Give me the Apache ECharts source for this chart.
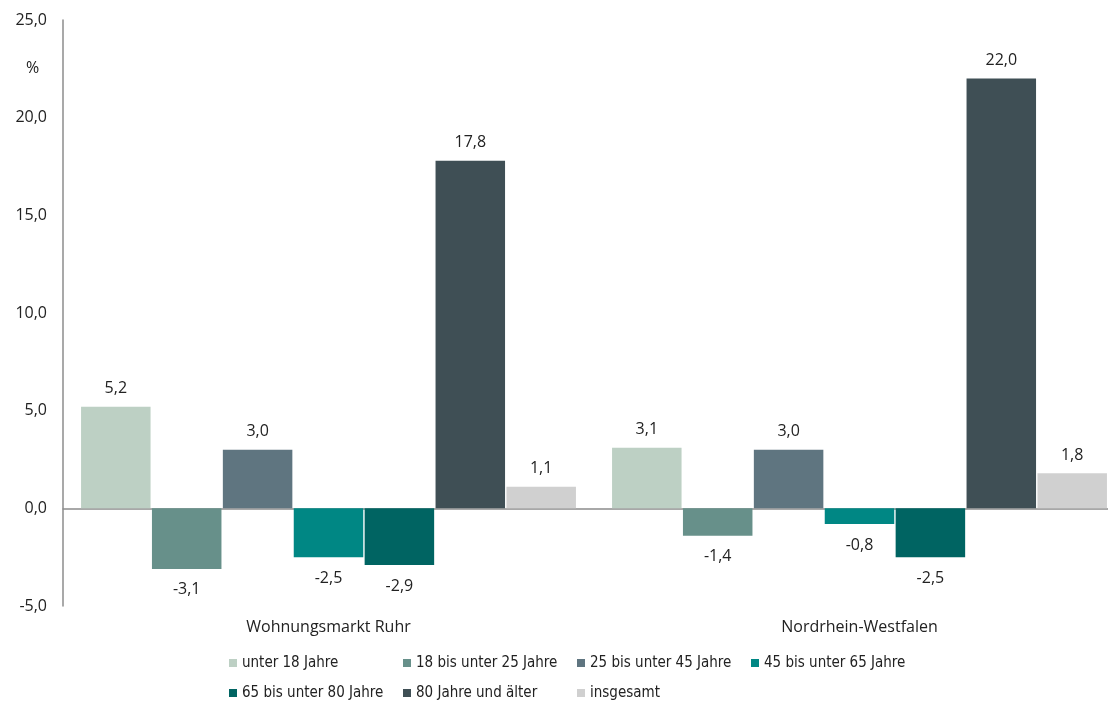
<!DOCTYPE html>
<html>
<head>
<meta charset="utf-8">
<script src="https://cdn.jsdelivr.net/npm/echarts@6/dist/echarts.min.js"></script>
<style>
  html, body { margin: 0; padding: 0; background: #fff; }
  #chart { width: 1108px; height: 703px; }
</style>
</head>
<body>
<div id="chart"></div>
<script>
// Regions compared
const regions = ['Wohnungsmarkt Ruhr', 'Nordrhein-Westfalen'];

// Change in population by age group, in percent
const seriesNames = [
  'unter 18 Jahre',
  '18 bis unter 25 Jahre',
  '25 bis unter 45 Jahre',
  '45 bis unter 65 Jahre',
  '65 bis unter 80 Jahre',
  '80 Jahre und älter',
  'insgesamt'
];
const unter18 = [5.2, 3.1];
const von18bis25 = [-3.1, -1.4];
const von25bis45 = [3.0, 3.0];
const von45bis65 = [-2.5, -0.8];
const von65bis80 = [-2.9, -2.5];
const ab80 = [17.8, 22.0];
const insgesamt = [1.1, 1.8];

const seriesValues = [unter18, von18bis25, von25bis45, von45bis65, von65bis80, ab80, insgesamt];
const colors = ['#bdd0c4', '#67908a', '#5f7580', '#008784', '#006462', '#3f4f55', '#d0d0d0'];

const FONT = 'Open Sans';
const LEGEND_FONT = '"DejaVu Sans Condensed", Roboto, sans-serif';
const fmt = v => v.toFixed(1).replace('.', ',');

const chart = echarts.init(document.getElementById('chart'));

chart.setOption({
  animation: false,
  textStyle: { fontFamily: FONT },
  grid: { left: 63, width: 1062, top: 20, height: 586, containLabel: false, outerBoundsMode: 'none' },
  legend: {
    left: 229,
    top: 648,
    padding: 0,
    width: 710,
    itemWidth: 8,
    itemHeight: 8,
    itemGap: 0,
    icon: 'rect',
    data: seriesNames,
    textStyle: { fontFamily: LEGEND_FONT, fontSize: 15, color: '#222', width: 161, lineHeight: 30, height: 30 }
  },
  xAxis: [
    {
      type: 'category',
      data: regions,
      position: 'bottom',
      axisLine: { show: false, onZero: false },
      axisTick: { show: false },
      axisLabel: { margin: 13, fontSize: 16, color: '#222', fontFamily: FONT }
    },
    {
      type: 'category',
      data: regions,
      axisLine: { show: true, onZero: true, lineStyle: { color: '#8c8c8c', width: 1.5 } },
      axisTick: { show: false },
      axisLabel: { show: false }
    }
  ],
  yAxis: {
    type: 'value',
    min: -5,
    max: 25,
    interval: 5,
    axisLine: { show: true, lineStyle: { color: '#8c8c8c', width: 1.5 } },
    axisTick: { show: false },
    splitLine: { show: false },
    axisLabel: { margin: 16, fontSize: 16, color: '#222', fontFamily: FONT, formatter: v => fmt(v) }
  },
  graphic: [
    {
      type: 'text',
      left: 26,
      top: 60,
      style: { text: '%', fontSize: 16, fill: '#222', fontFamily: FONT }
    }
  ],
  series: seriesValues.map((vals, i) => ({
    name: seriesNames[i],
    type: 'bar',
    xAxisIndex: 0,
    barGap: '2%',
    barCategoryGap: '6.8%',
    itemStyle: { color: colors[i] },
    label: {
      show: true,
      fontSize: 16,
      color: '#222',
      fontFamily: FONT,
      formatter: p => fmt(p.value)
    },
    data: vals.map(v => ({
      value: v,
      label: { position: v < 0 ? 'bottom' : 'top', distance: v < 0 ? 13 : 10 }
    }))
  }))
});
</script>
</body>
</html>
